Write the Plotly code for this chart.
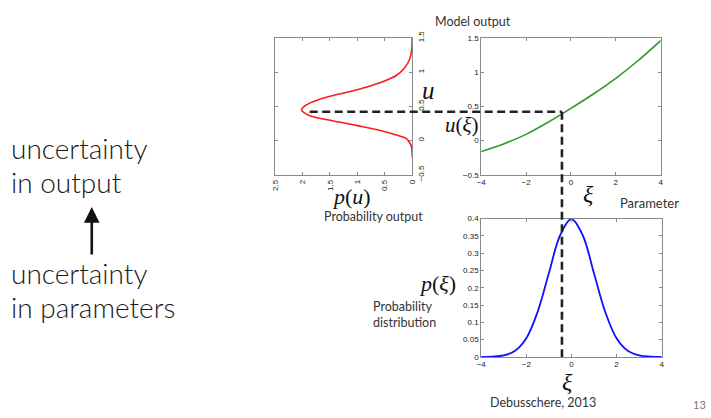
import plotly.graph_objects as go

W, H = 711, 418

# ---------------- data ----------------
# p(u): probability of model output (panel rotated: p on x, u on y)
u_out = [-0.25, -0.20, -0.10, -0.04, 0.03, 0.08, 0.15, 0.21, 0.27, 0.31, 0.36, 0.41, 0.45,
         0.50, 0.55, 0.60, 0.65, 0.71, 0.78, 0.86, 0.95, 1.06, 1.18, 1.32, 1.50]
p_out = [0.00, 0.00, 0.01, 0.04, 0.11, 0.29, 0.60, 0.96, 1.33, 1.60, 1.86, 1.98, 2.02,
         1.97, 1.86, 1.70, 1.48, 1.17, 0.84, 0.54, 0.29, 0.14, 0.05, 0.01, 0.00]

# model u(xi)
xi_model = [-4, -3, -2, -1, 0, 1, 2, 3, 4]
u_model = [-0.16, -0.05, 0.09, 0.27, 0.47, 0.68, 0.91, 1.17, 1.46]

# p(xi): parameter distribution
xi_pdf = [-4, -3.5, -3, -2.5, -2, -1.5, -1, -0.5, 0, 0.5, 1, 1.5, 2, 2.5, 3, 3.5, 4]
p_xi = [0.0001, 0.0009, 0.0044, 0.0175, 0.054, 0.13, 0.242, 0.352, 0.399,
        0.352, 0.242, 0.13, 0.054, 0.0175, 0.0044, 0.0009, 0.0001]

# sample point shown by the dashed lines
xi_star = -0.4
u_star = 0.42
p_start = 1.87

# ticks
p_out_ticks = [0, 0.5, 1, 1.5, 2, 2.5]
u_ticks = [-0.5, 0, 0.5, 1, 1.5]
xi_ticks = [-4, -2, 0, 2, 4]
pxi_ticks = [0, 0.05, 0.1, 0.15, 0.2, 0.25, 0.3, 0.35, 0.4]

# ranges
R1x = [2.5, 0]
R1y = [-0.5, 1.5]
R2x = [-4, 4]
R2y = [-0.5, 1.5]
R3x = [-4, 4]
R3y = [0, 0.4]

# ---------------- layout geometry (pixel boxes -> paper) ----------------
def px_x(p):
    return p / W

def px_y(p):
    return 1 - p / H

D1x = [px_x(274), px_x(413)]
D1y = [px_y(173.5), px_y(32)]
D2x = [px_x(483), px_x(665)]
D2y = [px_y(173.5), px_y(32)]
D3x = [px_x(483), px_x(666)]
D3y = [px_y(362), px_y(219)]


def to_paper(v, rng, dom):
    return dom[0] + (v - rng[0]) / (rng[1] - rng[0]) * (dom[1] - dom[0])


fig = go.Figure()
fig.add_trace(go.Scatter(x=p_out, y=u_out, mode="lines", xaxis="x", yaxis="y",
                         line=dict(color="#ff1a1a", width=1.6, shape="spline", smoothing=0.6),
                         hoverinfo="skip"))
fig.add_trace(go.Scatter(x=xi_model, y=u_model, mode="lines", xaxis="x2", yaxis="y2",
                         line=dict(color="#2e9a2e", width=1.6, shape="spline"),
                         hoverinfo="skip"))
fig.add_trace(go.Scatter(x=xi_pdf, y=p_xi, mode="lines", xaxis="x3", yaxis="y3",
                         line=dict(color="#1010ff", width=1.8, shape="spline"),
                         hoverinfo="skip"))

tickfont = dict(family="Liberation Sans, Arial", size=8, color="#222")
axis_common = dict(showline=True, linecolor="#8a8a8a", linewidth=1, mirror="allticks",
                   ticks="inside", ticklen=3, tickcolor="#8a8a8a", showgrid=False,
                   zeroline=False, tickfont=tickfont, fixedrange=True)

fig.update_layout(
    width=W, height=H,
    margin=dict(l=0, r=0, t=0, b=0),
    paper_bgcolor="white", plot_bgcolor="white",
    showlegend=False,
    xaxis=dict(domain=D1x, range=R1x, anchor="y", tickvals=p_out_ticks,
               tickangle=-90, ticklabelstandoff=1, **axis_common),
    yaxis=dict(domain=D1y, range=R1y, anchor="x", side="right", tickvals=u_ticks,
               tickangle=-90, ticklabelstandoff=1, **axis_common),
    xaxis2=dict(domain=D2x, range=R2x, anchor="y2", tickvals=xi_ticks, **axis_common),
    yaxis2=dict(domain=D2y, range=R2y, anchor="x2", tickvals=u_ticks, **axis_common),
    xaxis3=dict(domain=D3x, range=R3x, anchor="y3", tickvals=xi_ticks, **axis_common),
    yaxis3=dict(domain=D3y, range=R3y, anchor="x3", tickvals=pxi_ticks, **axis_common),
)

# dashed guide lines
xh0 = to_paper(p_start, R1x, D1x)
xh1 = to_paper(xi_star, R2x, D2x)
yh = to_paper(u_star, R2y, D2y)
yv1 = to_paper(0, R3y, D3y)
dash_line = dict(color="#222", width=2.6, dash="8px,4.5px")
fig.add_shape(type="line", xref="paper", yref="paper", x0=xh0, x1=xh1, y0=yh, y1=yh,
              line=dash_line, layer="above")
fig.add_shape(type="line", xref="paper", yref="paper", x0=xh1, x1=xh1, y0=yh, y1=yv1,
              line=dash_line, layer="above")

TEXT = "Lato"
MATH = "Liberation Serif, DejaVu Serif, serif"


def note(text, x, y, size, family=TEXT, color="#333", xanchor="center", weight=None,
         yanchor="middle"):
    f = dict(family=family, size=size, color=color)
    if weight is not None:
        f["weight"] = weight
    fig.add_annotation(text=text, x=px_x(x), y=px_y(y), xref="paper", yref="paper",
                       showarrow=False, xanchor=xanchor, yanchor=yanchor, font=f, align="left",
                       borderpad=0)


# left text
note("uncertainty", 5, 146, 28, xanchor="left", color="#1a1a1a", weight=300)
note("in output", 5, 181, 28, xanchor="left", color="#1a1a1a", weight=300)
note("uncertainty", 5, 275, 28, xanchor="left", color="#1a1a1a", weight=300)
note("in parameters", 5, 310, 28, xanchor="left", color="#1a1a1a", weight=300)

# arrow (head at top, tail 48 px below)
fig.add_annotation(x=px_x(88), y=px_y(207), xref="paper", yref="paper",
                   ax=0, ay=49, axref="pixel", ayref="pixel",
                   showarrow=True, arrowhead=2, arrowsize=1.2, arrowwidth=2.6,
                   arrowcolor="#111", text="")

# small captions
note("Model output", 475, 15, 12.5)
note("Parameter", 654, 203, 13)
note("Probability output", 374, 217, 12.5)
note("Probability", 372, 310, 12.5, xanchor="left")
note("distribution", 372, 326, 12.5, xanchor="left")
note("Debusschere, 2013", 546, 418, 12.5, yanchor="bottom")
note("13", 704, 411, 11, color="#777")

# math labels
note("<i>p</i>(<i>u</i>)", 351, 196, 22, family=MATH, color="#111")
note("<i>u</i>", 430, 86, 25, family=MATH, color="#111")
note("<i>u</i>(<i>ξ</i>)", 464, 122, 21, family=MATH, color="#111")
note("<i>ξ</i>", 592, 193, 24, family=MATH, color="#111")
note("<i>p</i>(<i>ξ</i>)", 439, 286, 22, family=MATH, color="#111")
note("<i>ξ</i>", 571, 373, 24, family=MATH, color="#111", yanchor="top")

fig.write_html("out.html")
